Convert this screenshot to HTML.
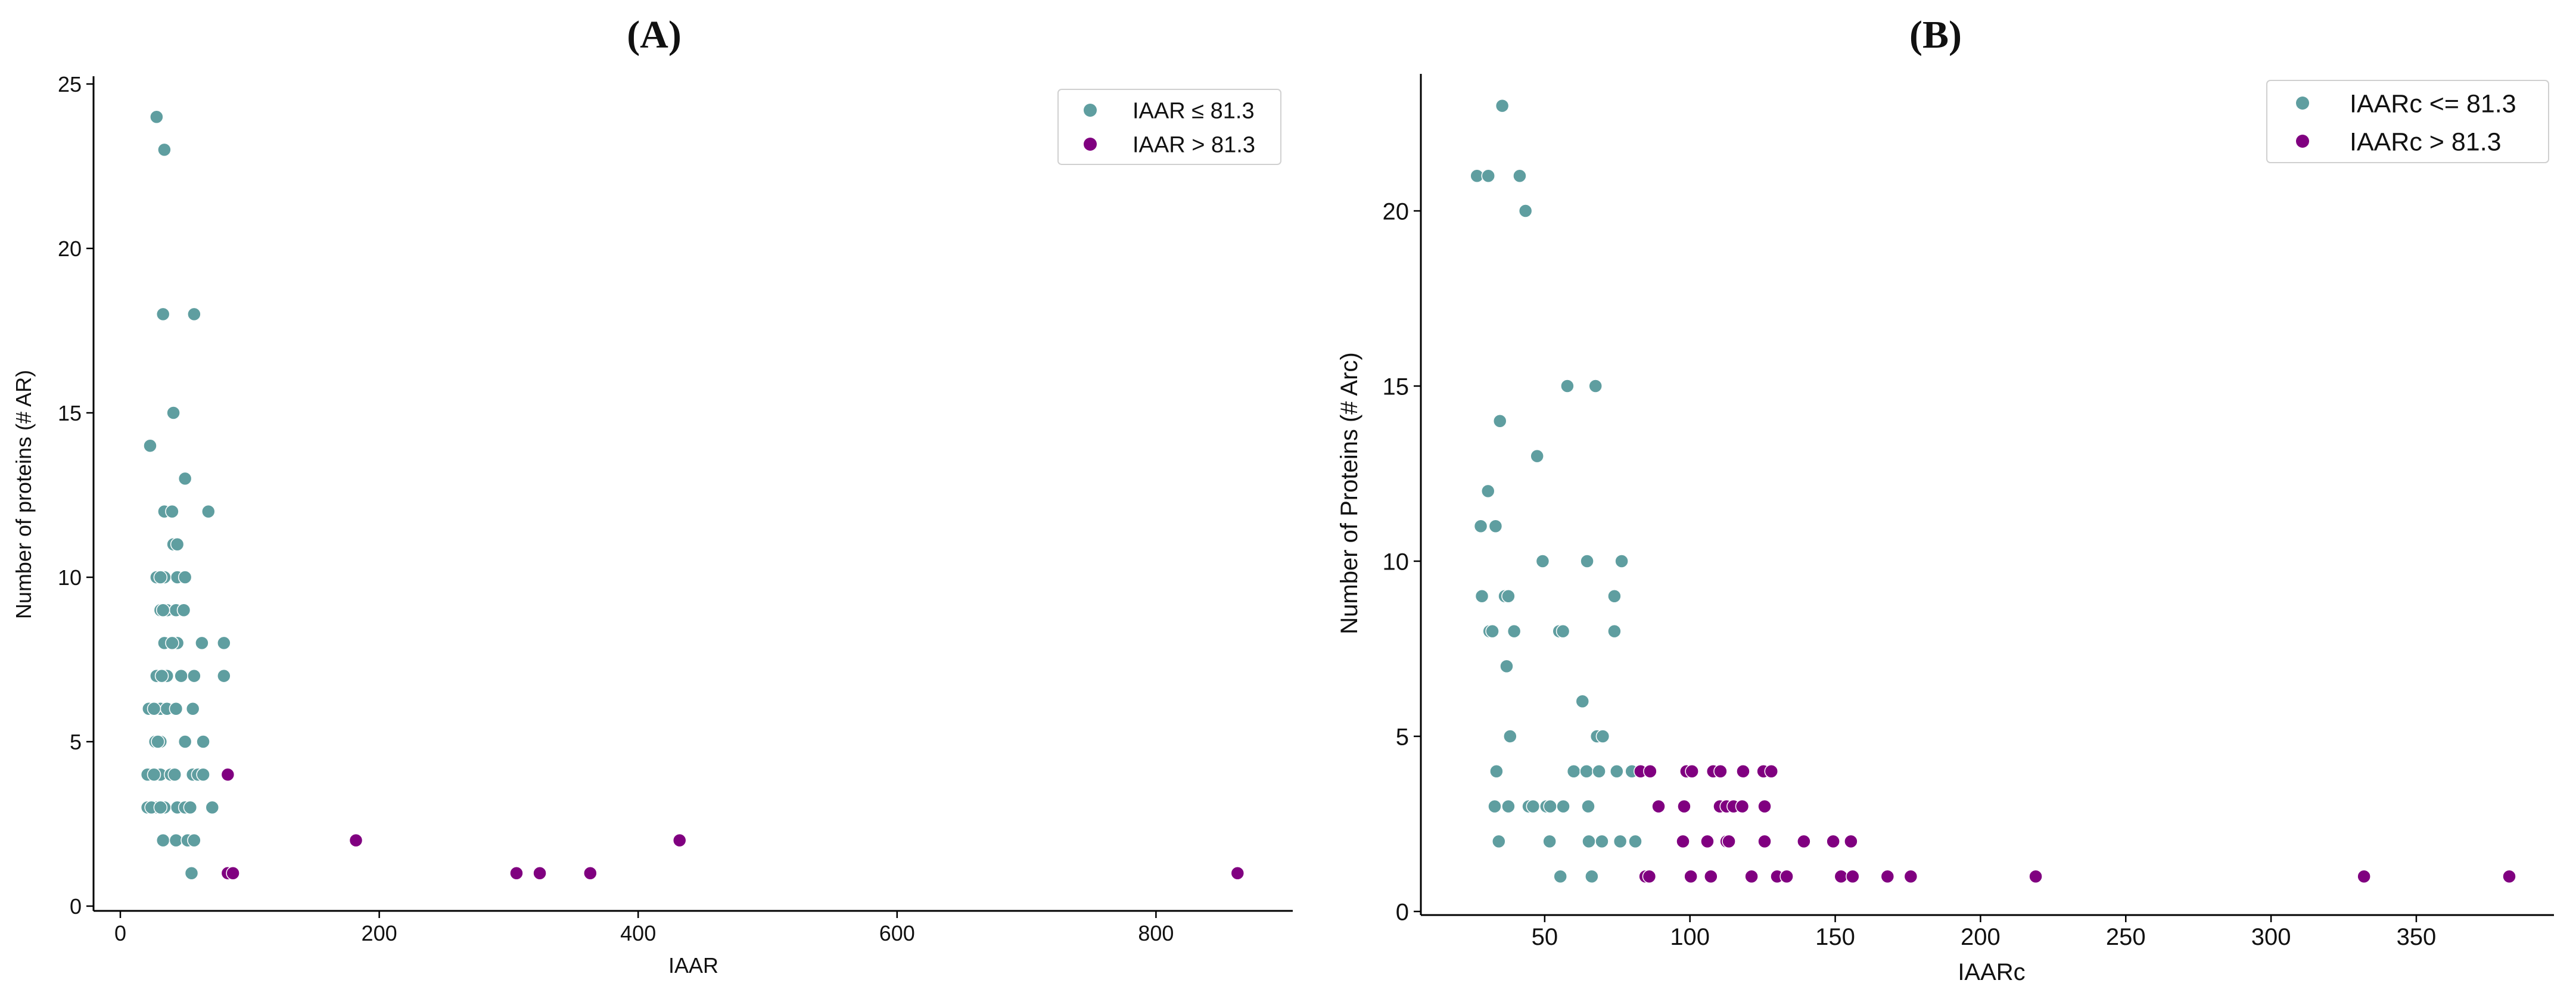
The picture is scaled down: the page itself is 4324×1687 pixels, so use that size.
<!DOCTYPE html>
<html><head><meta charset="utf-8"><style>
html,body{margin:0;padding:0;background:#fff;}
svg{display:block;}
text{font-family:"Liberation Sans","DejaVu Sans",sans-serif;fill:#111;}
</style></head><body>
<svg id="chart" width="4324" height="1687" viewBox="0 0 4324 1687" xmlns="http://www.w3.org/2000/svg">
<rect width="4324" height="1687" fill="#fff"/>
<text x="1098" y="80" text-anchor="middle" style="font-family:'Liberation Serif',serif;font-weight:bold;font-size:66px">(A)</text>
<text x="3249" y="80" text-anchor="middle" style="font-family:'Liberation Serif',serif;font-weight:bold;font-size:66px">(B)</text>
<g id="panelA"></g>
<g id="panelB"></g>
</svg>
<script>
// Panel A data
const aLowX = [55, 33,43,52,57, 21,28,34,44,50,54,71,24,31, 21,31,39,42,56,60,64,26,
  27,31,50,64,29, 22,31,36,43,56,26, 28,36,47,57,80,32, 34,44,63,80,40, 31,36,43,49,33,
  28,34,44,50,31, 41,44, 34,40,68, 50, 23, 41, 33,57, 28, 34];
const aLowY = [1, 2,2,2,2, 3,3,3,3,3,3,3,3,3, 4,4,4,4,4,4,4,4,
  5,5,5,5,5, 6,6,6,6,6,6, 7,7,7,7,7,7, 8,8,8,8,8, 9,9,9,9,9,
  10,10,10,10,10, 11,11, 12,12,12, 13, 14, 15, 18,18, 24, 23];
const aHighX = [83,87,306,324,363,863,182,432,83];
const aHighY = [1,1,1,1,1,1,2,2,4];
const aXTicks = [0,200,400,600,800];
const aYTicks = [0,5,10,15,20,25];

// Panel B data
const bLowX = [55.4,66.2, 34.2,51.7,65.2,69.7,76,81.2, 32.8,37.5,44.5,46,50.6,51.9,56.4,65,
  33.4,60,64.4,68.7,74.8,80, 38.1,68,70, 63, 36.9, 31,32,39.5,55,56.3,74,
  28.4,36.3,37.5,74, 49.3,64.6,76.5, 28,33.1, 30.5, 47.4, 34.6, 57.8,67.5, 43.4, 26.7,30.6,41.4, 35.4];
const bLowY = [1,1, 2,2,2,2,2,2, 3,3,3,3,3,3,3,3,
  4,4,4,4,4,4, 5,5,5, 6, 7, 8,8,8,8,8,8,
  9,9,9,9, 10,10,10, 11,11, 12, 13, 14, 15,15, 20, 21,21,21, 23];
const bHighX = [84.7,86,100.3,107.2,121.2,130,133.3,152,156,168,176,219,332,382,
  97.6,106,112.6,113.4,125.7,139.2,149.3,155.4,
  89.2,98,110.3,112.6,115,118,125.7,
  83,86.3,98.8,100.7,108,110.5,118.3,125.3,128];
const bHighY = [1,1,1,1,1,1,1,1,1,1,1,1,1,1,
  2,2,2,2,2,2,2,2,
  3,3,3,3,3,3,3,
  4,4,4,4,4,4,4,4,4];
const bXTicks = [50,100,150,200,250,300,350];
const bYTicks = [0,5,10,15,20];

const NS = "http://www.w3.org/2000/svg";
const TEAL = "#5f9ea0", PURP = "#800080";
function mk(tag, attrs, parent){const e=document.createElementNS(NS,tag);for(const k in attrs)e.setAttribute(k,attrs[k]);parent.appendChild(e);return e;}

function panel(g, cfg){
  const sx = v => cfg.x0 + (v - cfg.xmin)*cfg.kx;
  const sy = v => cfg.y0 - v*cfg.ky;
  const ys = mk('line',{x1:cfg.axL,y1:cfg.axTop,x2:cfg.axL,y2:cfg.axB,stroke:'#000','stroke-width':3},g);
  
  
  const xs = mk('line',{x1:cfg.axL,y1:cfg.axB,x2:cfg.axR,y2:cfg.axB,stroke:'#000','stroke-width':3},g);
  
  
  cfg.xt.forEach(v=>{
    const x=sx(v);
    const t=mk('line',{x1:x,y1:cfg.axB,x2:x,y2:cfg.axB+12,stroke:'#000','stroke-width':2.5},g);
    
    
    const l=mk('text',{x:x,y:cfg.axB+50,'text-anchor':'middle','font-size':cfg.fs},g);
    l.textContent=v;
    
    
  });
  cfg.yt.forEach(v=>{
    const y=sy(v);
    const t=mk('line',{x1:cfg.axL-12,y1:y,x2:cfg.axL,y2:y,stroke:'#000','stroke-width':2.5},g);
    
    
    const l=mk('text',{x:cfg.axL-20,y:y+cfg.fs*0.36,'text-anchor':'end','font-size':cfg.fs},g);
    l.textContent=v;
    
    
  });
  const xl=mk('text',{x:cfg.xlx,y:cfg.xly,'text-anchor':'middle','font-size':cfg.fs},g);
  xl.textContent=cfg.xlabel;
  
  
  const yl=mk('text',{x:0,y:0,'text-anchor':'middle','font-size':cfg.fs,transform:`translate(${cfg.ylx},${cfg.yly}) rotate(-90)`},g);
  yl.textContent=cfg.ylabel;
  
  
  cfg.lowX.forEach((v,i)=>{
    const c=mk('circle',{cx:sx(v),cy:sy(cfg.lowY[i]),r:11,fill:TEAL,stroke:'#fff','stroke-width':1.5},g);
    
    
  });
  cfg.highX.forEach((v,i)=>{
    const c=mk('circle',{cx:sx(v),cy:sy(cfg.highY[i]),r:11,fill:PURP,stroke:'#fff','stroke-width':1.5},g);
    
    
  });
  const L=cfg.leg;
  const box=mk('rect',{x:L.x,y:L.y,width:L.w,height:L.h,rx:6,fill:'#fff',stroke:'#d0d0d0','stroke-width':2},g);
  
  
  [[TEAL,L.t1,L.r1],[PURP,L.t2,L.r2]].forEach((e,i)=>{
    const c=mk('circle',{cx:L.mx,cy:e[2],r:11,fill:e[0]},g);
    
    
    const t=mk('text',{x:L.tx,y:e[2]+L.fs*0.36,'font-size':L.fs},g);
    t.textContent=e[1];
    
    
  });
}

panel(document.getElementById('panelA'),{
  x0:202,xmin:0,kx:2.173,y0:1521,ky:55.2,
  axL:157,axR:2170,axTop:128,axB:1529,
  xt:aXTicks,yt:aYTicks,fs:36,
  xlabel:'IAAR',xlx:1164,xly:1633,
  ylabel:'Number of proteins (# AR)',ylx:52,yly:830,
  lowX:aLowX,lowY:aLowY,highX:aHighX,highY:aHighY,
  leg:{x:1776,y:150,w:374,h:126,mx:1830,tx:1901,r1:185,r2:242,fs:38,t1:'IAAR \u2264 81.3',t2:'IAAR > 81.3'}
});
panel(document.getElementById('panelB'),{
  x0:2349,xmin:0,kx:4.877,y0:1530,ky:58.8,
  axL:2385,axR:4287,axTop:124,axB:1536,
  xt:bXTicks,yt:bYTicks,fs:40,
  xlabel:'IAARc',xlx:3343,xly:1645,
  ylabel:'Number of Proteins (# Arc)',ylx:2278,yly:828,
  lowX:bLowX,lowY:bLowY,highX:bHighX,highY:bHighY,
  leg:{x:3805,y:135,w:473,h:138,mx:3865,tx:3944,r1:173,r2:237,fs:43,t1:'IAARc <= 81.3',t2:'IAARc > 81.3'}
});
</script>
</body></html>
